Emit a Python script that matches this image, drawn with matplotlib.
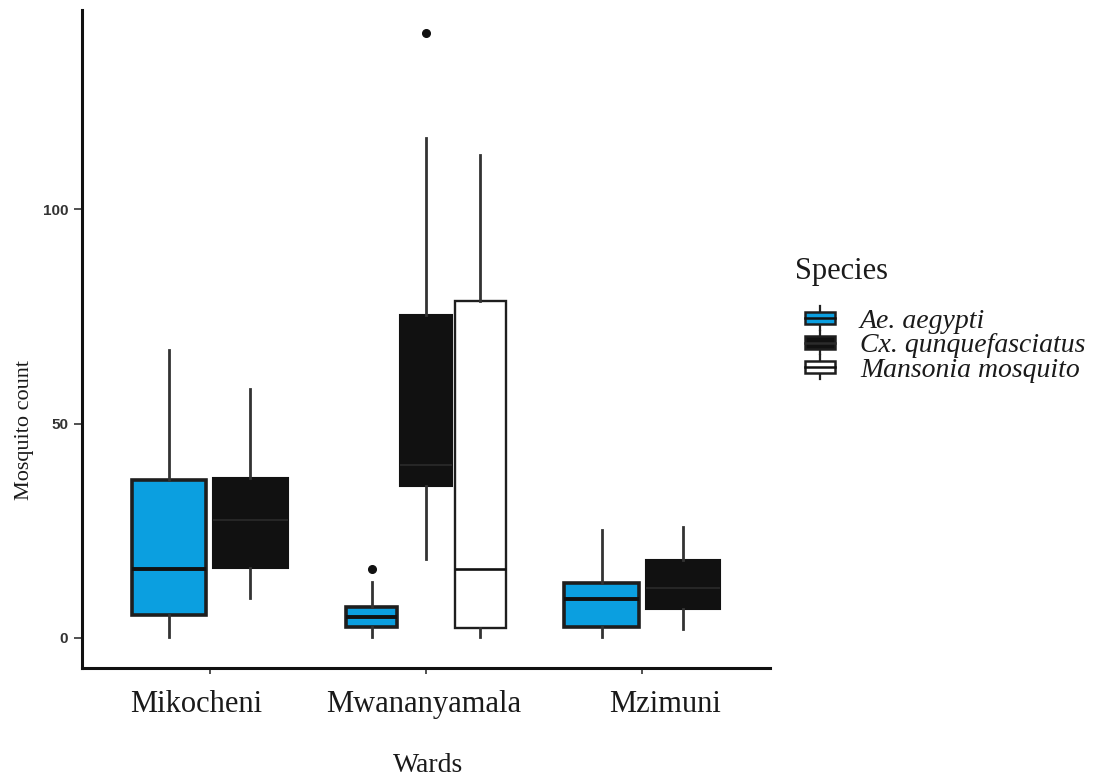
import matplotlib
matplotlib.use("Agg")
import matplotlib.pyplot as plt
from matplotlib.patches import Rectangle
from matplotlib.lines import Line2D
from matplotlib.legend_handler import HandlerBase
from matplotlib.transforms import ScaledTranslation

# ---------------- data ----------------
wards = ["Mikocheni", "Mwananyamala", "Mzimuni"]
species = ["Ae. aegypti", "Cx. qunquefasciatus", "Mansonia mosquito"]

ae_whislo = [0.2, 0.2, 0.2]
ae_q1 = [5.4, 2.6, 2.6]
ae_med = [16.1, 4.9, 9.1]
ae_q3 = [36.8, 7.2, 12.8]
ae_whishi = [67.1, 13.0, 25.2]
ae_fliers = [[], [16.1], []]

cx_whislo = [9.3, 18.4, 2.1]
cx_q1 = [16.3, 35.4, 6.8]
cx_med = [27.5, 40.3, 11.7]
cx_q3 = [37.3, 75.3, 18.2]
cx_whishi = [58.0, 116.5, 25.9]
cx_fliers = [[], [141.0], []]

# Mansonia only recorded in Mwananyamala
ma_whislo = [None, 0.2, None]
ma_q1 = [None, 2.3, None]
ma_med = [None, 16.1, None]
ma_q3 = [None, 78.6, None]
ma_whishi = [None, 112.6, None]
ma_fliers = [[], [], []]

y_ticks = [0, 50, 100]

# ---------------- styles ----------------
fill_colors = ["#0b9fe0", "#111111", "#ffffff"]
edge_colors = ["#1e1e1e", "#111111", "#1e1e1e"]
edge_widths = [2.6, 1.5, 1.7]
median_colors = ["#111111", "#2b2b2b", "#111111"]
median_widths = [2.8, 1.2, 1.9]

fig = plt.figure(figsize=(11.08, 7.76), dpi=100)
ax = fig.add_axes([82 / 1108, 1 - 668 / 776, (770 - 82) / 1108, (668 - 10) / 776])

series = [
    (ae_whislo, ae_q1, ae_med, ae_q3, ae_whishi, ae_fliers),
    (cx_whislo, cx_q1, cx_med, cx_q3, cx_whishi, cx_fliers),
    (ma_whislo, ma_q1, ma_med, ma_q3, ma_whishi, ma_fliers),
]

for wi in range(len(wards)):
    present = [si for si in range(len(species)) if series[si][2][wi] is not None]
    n = len(present)
    if n == 3:
        offsets = [-0.25, 0.0, 0.25]
        width = 0.236
    else:
        offsets = [-0.1875, 0.1875]
        width = 0.345
    for k, si in enumerate(present):
        lo, q1, med, q3, hi, fl = (s[wi] for s in series[si])
        stats = [dict(med=med, q1=q1, q3=q3, whislo=lo, whishi=hi, fliers=fl)]
        ax.bxp(
            stats,
            positions=[wi + 1 + offsets[k]],
            widths=width,
            patch_artist=True,
            showcaps=False,
            boxprops=dict(facecolor=fill_colors[si], edgecolor=edge_colors[si],
                          linewidth=edge_widths[si]),
            medianprops=dict(color=median_colors[si], linewidth=median_widths[si]),
            whiskerprops=dict(color="#333333", linewidth=2.0),
            flierprops=dict(marker="o", markerfacecolor="#111111",
                            markeredgecolor="#111111", markersize=5.5),
            manage_ticks=False,
            zorder=2,
        )

ax.set_xlim(0.41, 3.59)
ax.set_ylim(-7.0, 146.4)
ax.set_xticks([1, 2, 3])
ax.set_xticklabels(wards, family="Liberation Serif", fontsize=22, color="#1a1a1a")
ax.set_yticks(y_ticks)
ax.set_yticklabels([str(v) for v in y_ticks], family="Liberation Sans",
                   fontweight="bold", fontsize=11, color="#333333")
ax.tick_params(axis="x", length=4, width=1.2, color="#333333", pad=12)
ax.tick_params(axis="y", length=6, width=1.2, color="#333333", pad=4)
for lbl, dx in zip(ax.get_xticklabels(), [-13, -2, 23]):
    lbl.set_transform(lbl.get_transform() + ScaledTranslation(dx / 100, 0, fig.dpi_scale_trans))

for side in ["top", "right"]:
    ax.spines[side].set_visible(False)
for side in ["left", "bottom"]:
    ax.spines[side].set_linewidth(2.2)
    ax.spines[side].set_color("#111111")

fig.text(428 / 1108, 1 - 765 / 776, "Wards", family="Liberation Serif",
         fontsize=20, ha="center", va="center", color="#1a1a1a")
fig.text(25 / 1108, 1 - 430 / 776, "Mosquito count", family="Liberation Serif",
         fontsize=16, ha="center", va="center", rotation=90, color="#1a1a1a")
fig.text(795 / 1108, 1 - 272 / 776, "Species", family="Liberation Serif",
         fontsize=22, ha="left", va="center", color="#1a1a1a")


# ---------------- legend ----------------
class BoxKey(HandlerBase):
    def __init__(self, fc, ec, mc, **kw):
        super().__init__(**kw)
        self.fc, self.ec, self.mc = fc, ec, mc

    def create_artists(self, legend, orig_handle, xdescent, ydescent, width, height,
                       fontsize, trans):
        bw = width * 0.9
        bh = height * 0.85
        x0 = -xdescent + (width - bw) / 2
        y0 = -ydescent + (height - bh) / 2
        cx = x0 + bw / 2
        wl = Line2D([cx, cx], [-ydescent - height * 0.3, -ydescent + height * 1.3],
                    color="#222222", lw=1.6, transform=trans)
        r = Rectangle((x0, y0), bw, bh, facecolor=self.fc, edgecolor=self.ec,
                      lw=1.8, transform=trans)
        m = Line2D([x0, x0 + bw], [y0 + bh / 2, y0 + bh / 2], color=self.mc,
                   lw=1.8, transform=trans)
        return [wl, r, m]


handles = [Rectangle((0, 0), 1, 1) for _ in species]
hmap = {h: BoxKey(fill_colors[i], "#1e1e1e", median_colors[i])
        for i, h in enumerate(handles)}
leg = fig.legend(handles, species, handler_map=hmap,
                 loc="upper left", bbox_to_anchor=(803 / 1108, 1 - 309 / 776),
                 frameon=False,
                 prop=dict(family="Liberation Serif", style="italic", size=20),
                 handlelength=1.2, handleheight=0.45, handletextpad=0.85,
                 labelspacing=-0.02, borderaxespad=0, borderpad=0)
for t in leg.get_texts():
    t.set_color("#1a1a1a")

fig.savefig("out.png", dpi=100)
